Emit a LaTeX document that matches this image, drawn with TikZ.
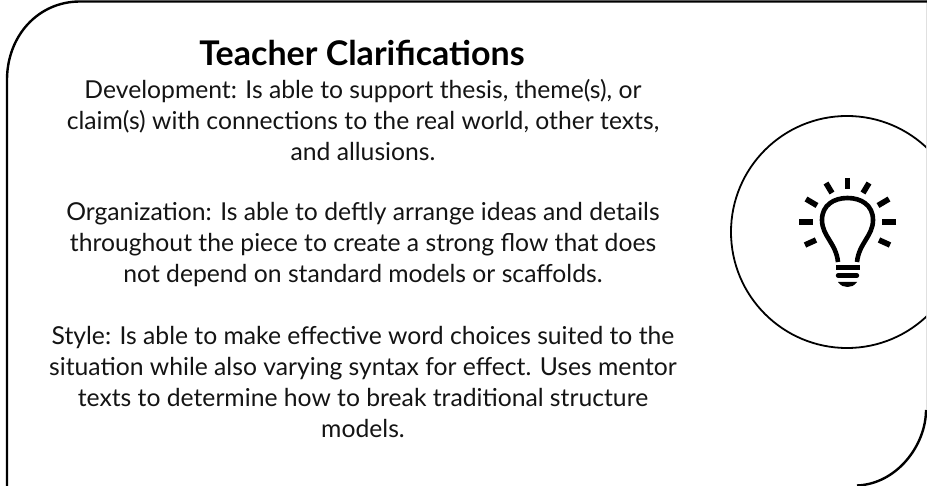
\documentclass[tikz,border=0pt]{standalone}
\usepackage{fontspec}
\setmainfont{Lato}
\tikzset{
 body/.style={align=center,font=\fontsize{24.7}{31}\selectfont,text=black!92,inner sep=0pt},
 ttl/.style={align=center,font=\fontsize{34}{36}\bfseries\selectfont,inner sep=0pt},
 outline/.style={line width=2.4pt,black},
 ray/.style={line width=5.6pt,black},
 bulb/.style={line width=4.6pt,black,line cap=butt,line join=round}
}
\begin{document}
\begin{tikzpicture}[x=1pt,y=-1pt]
\useasboundingbox (0,0) rectangle (927,486);
\fill[white] (0,0) rectangle (927,486);
% outer panel
\draw[line width=1pt,black!12] (926.5,0) -- (926.5,410);
\draw[outline] (927,1.5) -- (80,1.5) .. controls (38,1.5) and (7,36) .. (7,80) -- (7,486);
\draw[outline] (926,410) .. controls (926,445) and (897,484) .. (857,485.5);
% circle
\begin{scope}
\clip (0,0) rectangle (926,486);
\draw[line width=1.8pt,black] (847,232) circle (116);
\end{scope}
% bulb
\draw[ray] (847.5,178) -- (847.5,189);
\draw[ray] (826,183) -- (832,193);
\draw[ray] (869,183) -- (863,193);
\draw[ray] (806,199) -- (817,205.5);
\draw[ray] (889,199) -- (878,205.5);
\draw[ray] (799,222) -- (813,222);
\draw[ray] (896,222) -- (882,222);
\draw[ray] (805,245) -- (816,240);
\draw[ray] (890,245) -- (879,240);
\draw[bulb] (838,262) .. controls (836,243) and (822,236) .. (822,220) .. controls (822,205) and (834,198) .. (847.5,198) .. controls (861,198) and (873,205) .. (873,220) .. controls (873,236) and (859,243) .. (857,262);
\draw[black,line width=4.4pt] (836,267.5) -- (859.5,267.5);
\draw[black,line width=4.4pt,line cap=round] (838,275.5) -- (857,275.5);
\fill[black] (838,282) -- (857,282) .. controls (854,286) and (851,287) .. (847.5,287) .. controls (844,287) and (841,286) .. (838,282) -- cycle;
% text
\node[ttl,anchor=base] (title) at (362,66) {Teacher Clarifications};
\node[body,anchor=north] (dev) at (363,79) {Development: Is able to support thesis, theme(s), or\\claim(s) with connections to the real world, other texts,\\and allusions.};
\node[body,anchor=north] (org) at (363,202) {Organization: Is able to deftly arrange ideas and details\\throughout the piece to create a strong flow that does\\not depend on standard models or scaffolds.};
\node[body,anchor=north] (sty) at (363,326) {Style: Is able to make effective word choices suited to the\\situation while also varying syntax for effect. Uses mentor\\texts to determine how to break traditional structure\\models.};
\end{tikzpicture}
\end{document}
